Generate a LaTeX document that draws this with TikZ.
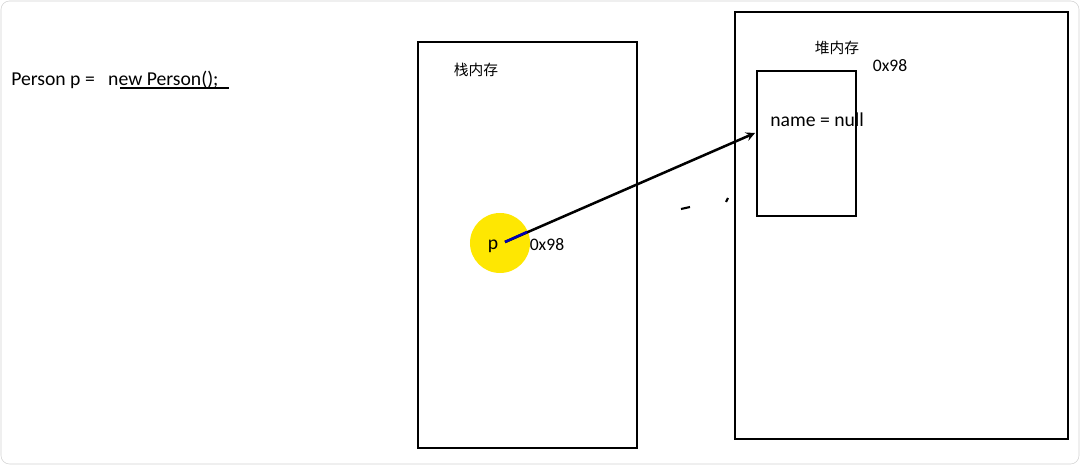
\documentclass[tikz,border=0pt]{standalone}
\usepackage{fontspec}
\setmainfont{Carlito}
\newfontfamily\cjk{Noto Sans CJK SC}
\usetikzlibrary{positioning}

\begin{document}
\begin{tikzpicture}[x=0.025cm,y=-0.025cm,>=stealth,
      mem box/.style={rectangle,draw,line width=1.8pt,inner sep=0pt},
      lbl/.style={font=\fontsize{12.5}{14}\selectfont,inner sep=0pt},
      big lbl/.style={font=\fontsize{14}{16}\selectfont,inner sep=0pt},
      cn lbl/.style={font=\cjk\fontsize{10.5}{12}\selectfont,inner sep=0pt}]
      \useasboundingbox (0,0) rectangle (1080,465);
      \draw[gray!35,rounded corners=6pt] (1,1) rectangle (1079,464);

      % code line
      \node[big lbl,anchor=west] (code) at (11,80) {Person p =\ \ \ new Person();};
      \coordinate (ul a) at (120,88);
      \coordinate (ul b) at (229,88);
      \draw[line width=1.5pt] (ul a) -- (ul b);

      % stack
      \node[mem box,minimum width=5.475cm,minimum height=10.15cm] (stack) at (527.5,245) {};
      \node[cn lbl] (stack lbl) at (476,70) {栈内存};
      \node[circle,fill=yellow!90!orange,minimum size=1.5cm,inner sep=0pt] (dot) at (500,243) {};
      \node[big lbl] (p) at (493,246) {p};
      \node[lbl] (addr) at (547,245) {0x98};

      % heap
      \node[mem box,minimum width=8.325cm,minimum height=10.675cm] (heap) at (901.5,225.5) {};
      \node[cn lbl] (heap lbl) at (837,48) {堆内存};
      \node[lbl] (heap addr) at (890,66) {0x98};
      \node[mem box,minimum width=2.475cm,minimum height=3.625cm] (obj) at (806.5,143.5) {};
      \node[big lbl,anchor=west] (field) at (770,120) {name = null};

      \coordinate (tip) at (755,133);
      \coordinate (start) at (505,242);
      \coordinate (blue end) at (527,232);
      \draw[->,line width=1.8pt] (start) -- (tip);
      \draw[blue!70!black,line width=1.8pt] (start) -- (blue end);

      % stray marks
      \draw[line width=1.5pt] (681,209) -- (690,207);
      \draw[line width=1.5pt] (726,202) -- (728,198);
\end{tikzpicture}
\end{document}
